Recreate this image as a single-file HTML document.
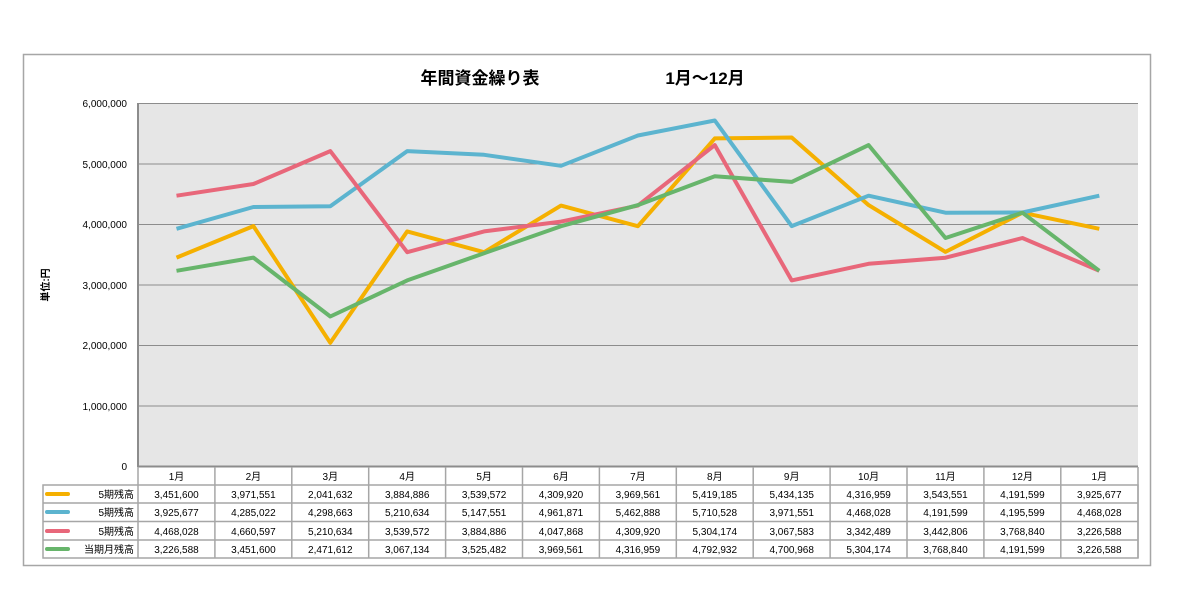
<!DOCTYPE html>
<html><head><meta charset="utf-8"><style>
body{margin:0;background:#fff;}
svg{display:block;font-family:"Liberation Sans","Noto Sans CJK JP",sans-serif;}
</style></head><body>
<svg width="1185" height="597" viewBox="0 0 1185 597" xmlns="http://www.w3.org/2000/svg">
<rect x="23.5" y="54.5" width="1127" height="511" fill="#fff" stroke="#a6a6a6" stroke-width="1.5"/>
<text x="480" y="84" font-size="17" font-weight="bold" text-anchor="middle" fill="#000">年間資金繰り表</text>
<text x="705" y="84" font-size="17" font-weight="bold" text-anchor="middle" fill="#000">1月～12月</text>
<rect x="138" y="103" width="1000" height="363" fill="#e6e6e6"/>
<g stroke="#8c8c8c" stroke-width="1">
<line x1="138" y1="103.5" x2="1138" y2="103.5"/>
<line x1="138" y1="164" x2="1138" y2="164"/>
<line x1="138" y1="224.5" x2="1138" y2="224.5"/>
<line x1="138" y1="285" x2="1138" y2="285"/>
<line x1="138" y1="345.5" x2="1138" y2="345.5"/>
<line x1="138" y1="406" x2="1138" y2="406"/>
</g>
<line x1="138" y1="103" x2="138" y2="467" stroke="#8c8c8c" stroke-width="2"/>
<line x1="138" y1="466.5" x2="1138" y2="466.5" stroke="#8c8c8c" stroke-width="2"/>
<g font-size="10" text-anchor="end" fill="#000">
<text x="127" y="107">6,000,000</text>
<text x="127" y="168">5,000,000</text>
<text x="127" y="228">4,000,000</text>
<text x="127" y="289">3,000,000</text>
<text x="127" y="349">2,000,000</text>
<text x="127" y="410">1,000,000</text>
<text x="127" y="470">0</text>
</g>
<text transform="translate(49,285) rotate(-90)" font-size="10" font-weight="bold" text-anchor="middle">単位:円</text>
<g fill="none" stroke-width="4" stroke-linejoin="round">
<polyline stroke="#f5b000" points="176.5,257.6 253.4,226.1 330.3,342.8 407.2,231.4 484.1,252.2 561,205.6 637.9,226.2 714.8,138.4 791.7,137.5 868.6,205.1 945.5,251.9 1022.4,212.7 1099.3,228.8"/>
<polyline stroke="#5cb4cf" points="176.5,228.8 253.4,207.0 330.3,206.2 407.2,151.1 484.1,154.8 561,165.8 637.9,135.5 714.8,120.5 791.7,226.1 868.6,195.7 945.5,212.7 1022.4,212.5 1099.3,195.7"/>
<polyline stroke="#e8677a" points="176.5,195.7 253.4,184.0 330.3,151.1 407.2,252.2 484.1,231.4 561,221.6 637.9,205.6 714.8,145.1 791.7,280.4 868.6,263.8 945.5,257.7 1022.4,238.0 1099.3,270.8"/>
<polyline stroke="#67b56b" points="176.5,270.8 253.4,257.6 330.3,316.5 407.2,280.4 484.1,253.2 561,226.2 637.9,205.1 714.8,176.3 791.7,181.9 868.6,145.1 945.5,238.0 1022.4,212.7 1099.3,270.8"/>
</g>
<g stroke="#a6a6a6" stroke-width="1.5" fill="none">
<rect x="43" y="485" width="1095" height="73"/>
<line x1="138" y1="467" x2="138" y2="558"/>
<line x1="1138" y1="467" x2="1138" y2="558"/>
<line x1="43" y1="503" x2="1138" y2="503"/>
<line x1="43" y1="521.5" x2="1138" y2="521.5"/>
<line x1="43" y1="540" x2="1138" y2="540"/>
<line x1="214.9" y1="467" x2="214.9" y2="558"/><line x1="291.8" y1="467" x2="291.8" y2="558"/><line x1="368.7" y1="467" x2="368.7" y2="558"/><line x1="445.6" y1="467" x2="445.6" y2="558"/><line x1="522.5" y1="467" x2="522.5" y2="558"/><line x1="599.4" y1="467" x2="599.4" y2="558"/><line x1="676.3" y1="467" x2="676.3" y2="558"/><line x1="753.2" y1="467" x2="753.2" y2="558"/><line x1="830.1" y1="467" x2="830.1" y2="558"/><line x1="907" y1="467" x2="907" y2="558"/><line x1="983.9" y1="467" x2="983.9" y2="558"/><line x1="1060.8" y1="467" x2="1060.8" y2="558"/>
</g>
<g stroke-width="4" stroke-linecap="round">
<line x1="47" y1="494" x2="68" y2="494" stroke="#f5b000"/>
<line x1="47" y1="512" x2="68" y2="512" stroke="#5cb4cf"/>
<line x1="47" y1="531" x2="68" y2="531" stroke="#e8677a"/>
<line x1="47" y1="549" x2="68" y2="549" stroke="#67b56b"/>
</g>
<g font-size="10" text-anchor="end">
<text x="134" y="498">5期残高</text>
<text x="134" y="516">5期残高</text>
<text x="134" y="535">5期残高</text>
<text x="134" y="553">当期月残高</text>
</g>
<g font-size="10" text-anchor="middle">
<text y="480"><tspan x="176.5">1月</tspan><tspan x="253.4">2月</tspan><tspan x="330.3">3月</tspan><tspan x="407.2">4月</tspan><tspan x="484.1">5月</tspan><tspan x="561">6月</tspan><tspan x="637.9">7月</tspan><tspan x="714.8">8月</tspan><tspan x="791.7">9月</tspan><tspan x="868.6">10月</tspan><tspan x="945.5">11月</tspan><tspan x="1022.4">12月</tspan><tspan x="1099.3">1月</tspan></text>
<text y="498"><tspan x="176.5">3,451,600</tspan><tspan x="253.4">3,971,551</tspan><tspan x="330.3">2,041,632</tspan><tspan x="407.2">3,884,886</tspan><tspan x="484.1">3,539,572</tspan><tspan x="561">4,309,920</tspan><tspan x="637.9">3,969,561</tspan><tspan x="714.8">5,419,185</tspan><tspan x="791.7">5,434,135</tspan><tspan x="868.6">4,316,959</tspan><tspan x="945.5">3,543,551</tspan><tspan x="1022.4">4,191,599</tspan><tspan x="1099.3">3,925,677</tspan></text>
<text y="516"><tspan x="176.5">3,925,677</tspan><tspan x="253.4">4,285,022</tspan><tspan x="330.3">4,298,663</tspan><tspan x="407.2">5,210,634</tspan><tspan x="484.1">5,147,551</tspan><tspan x="561">4,961,871</tspan><tspan x="637.9">5,462,888</tspan><tspan x="714.8">5,710,528</tspan><tspan x="791.7">3,971,551</tspan><tspan x="868.6">4,468,028</tspan><tspan x="945.5">4,191,599</tspan><tspan x="1022.4">4,195,599</tspan><tspan x="1099.3">4,468,028</tspan></text>
<text y="535"><tspan x="176.5">4,468,028</tspan><tspan x="253.4">4,660,597</tspan><tspan x="330.3">5,210,634</tspan><tspan x="407.2">3,539,572</tspan><tspan x="484.1">3,884,886</tspan><tspan x="561">4,047,868</tspan><tspan x="637.9">4,309,920</tspan><tspan x="714.8">5,304,174</tspan><tspan x="791.7">3,067,583</tspan><tspan x="868.6">3,342,489</tspan><tspan x="945.5">3,442,806</tspan><tspan x="1022.4">3,768,840</tspan><tspan x="1099.3">3,226,588</tspan></text>
<text y="553"><tspan x="176.5">3,226,588</tspan><tspan x="253.4">3,451,600</tspan><tspan x="330.3">2,471,612</tspan><tspan x="407.2">3,067,134</tspan><tspan x="484.1">3,525,482</tspan><tspan x="561">3,969,561</tspan><tspan x="637.9">4,316,959</tspan><tspan x="714.8">4,792,932</tspan><tspan x="791.7">4,700,968</tspan><tspan x="868.6">5,304,174</tspan><tspan x="945.5">3,768,840</tspan><tspan x="1022.4">4,191,599</tspan><tspan x="1099.3">3,226,588</tspan></text>
</g>
</svg>
</body></html>
